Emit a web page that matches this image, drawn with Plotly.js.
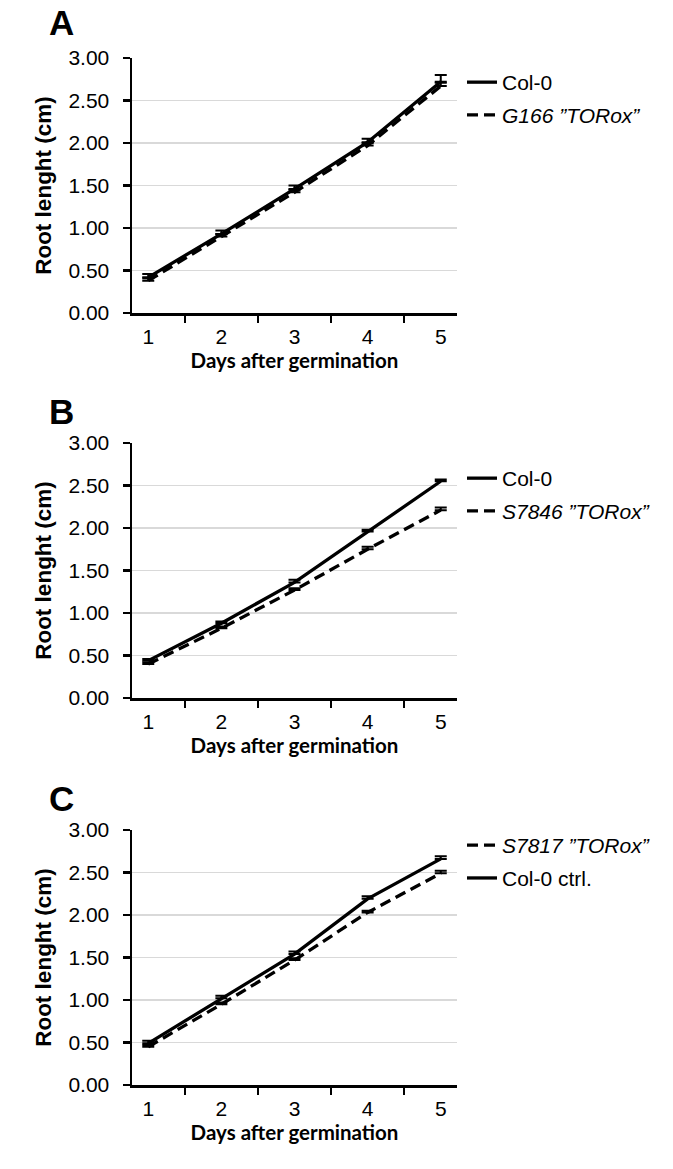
<!DOCTYPE html>
<html>
<head>
<meta charset="utf-8">
<script src="https://cdn.plot.ly/plotly-3.0.1.min.js"></script>
<style>html,body{margin:0;padding:0;background:#fff;}</style>
</head>
<body>
<div id="chart" style="width:673px;height:1169px;"></div>
<script>
// ---- data ----
const days = ['1', '2', '3', '4', '5'];

const colA = [0.42, 0.93, 1.46, 2.01, 2.72];
const colAErr = [0.04, 0.04, 0.04, 0.04, 0.08];
const toroxA = [0.38, 0.90, 1.42, 1.97, 2.67];
const toroxAErr = [0.03, 0.03, 0.03, 0.03, 0.04];

const colB = [0.44, 0.88, 1.36, 1.96, 2.55];
const colBErr = [0.02, 0.02, 0.03, 0.02, 0.02];
const toroxB = [0.40, 0.82, 1.27, 1.75, 2.21];
const toroxBErr = [0.02, 0.02, 0.02, 0.03, 0.03];

const colC = [0.49, 1.02, 1.54, 2.19, 2.66];
const colCErr = [0.03, 0.03, 0.03, 0.03, 0.03];
const toroxC = [0.45, 0.95, 1.47, 2.03, 2.49];
const toroxCErr = [0.02, 0.02, 0.02, 0.02, 0.03];

const panelLetters = ['A', 'B', 'C'];
const xTitle = 'Days after germination';
const yTitle = 'Root lenght (cm)';
const yTicks = [0, 0.5, 1, 1.5, 2, 2.5, 3];

// ---- styling ----
const W = 673, H = 1169;
const DASH = '11px,6px';
function errBar(arr) {
  return {type: 'data', symmetric: false, array: arr, arrayminus: arr.map(() => 0),
    visible: true, color: '#000', thickness: 2, width: 6};
}
let gi = 0;
function trace(y, err, name, dashed, xa, ya, leg) {
  gi += 1;
  return {
    x: days, y: y, name: name, type: 'scatter', mode: 'lines',
    xaxis: xa, yaxis: ya, legend: leg, legendgroup: 'g' + gi,
    line: {color: '#000', width: 3.3, dash: dashed ? DASH : 'solid'},
    error_y: errBar(err),
    hoverinfo: 'skip'
  };
}

const data = [
  trace(colA, colAErr, 'Col-0', false, 'x', 'y', 'legend'),
  trace(toroxA, toroxAErr, '<i>G166 ”TORox”</i>', true, 'x', 'y', 'legend'),
  trace(colB, colBErr, 'Col-0', false, 'x2', 'y2', 'legend2'),
  trace(toroxB, toroxBErr, '<i>S7846 ”TORox”</i>', true, 'x2', 'y2', 'legend2'),
  trace(toroxC, toroxCErr, '<i>S7817 ”TORox”</i>', true, 'x3', 'y3', 'legend3'),
  trace(colC, colCErr, 'Col-0 ctrl.', false, 'x3', 'y3', 'legend3')
];

// pixel boxes for plots (top, bottom)
const plotX = [132, 457];
const plotY = [[58, 313], [443, 698], [830, 1085]];
const xdom = [plotX[0] / W, plotX[1] / W];

const tickFont = {family: 'Liberation Sans, Arial, sans-serif', size: 21, color: '#000'};

function xaxis(anchor) {
  return {
    domain: xdom, anchor: anchor, type: 'category', tickson: 'boundaries',
    showline: true, linecolor: '#000', linewidth: 2.5,
    ticks: 'outside', ticklen: 7, tickwidth: 2.5, tickcolor: '#000',
    ticklabelstandoff: 3,
    showgrid: false, zeroline: false, tickfont: tickFont,
    title: {text: '<b>' + xTitle + '</b>', font: {family: 'Lato, sans-serif', size: 20.5, color: '#000'}, standoff: 6},
    fixedrange: true
  };
}
function yaxis(anchor, i) {
  const d = plotY[i];
  return {
    domain: [1 - d[1] / H, 1 - d[0] / H], anchor: anchor,
    range: [0, 3], tickvals: yTicks, tickformat: '.2f',
    showline: true, linecolor: '#000', linewidth: 2.5,
    ticks: 'outside', ticklen: 7, tickwidth: 2.5, tickcolor: '#000',
    ticklabelstandoff: 9,
    showgrid: true, gridcolor: '#d9d9d9', gridwidth: 1.5, zeroline: false,
    tickfont: tickFont,
    title: {text: '<b>' + yTitle + '</b>', font: {family: 'Liberation Sans, Arial, sans-serif', size: 22.5, color: '#000'}, standoff: 11},
    fixedrange: true
  };
}

const legFont = {family: 'Liberation Sans, Arial, sans-serif', size: 21, color: '#000'};
function legend(topPx) {
  return {x: 462 / W, xanchor: 'left', y: 1 - topPx / H, yanchor: 'top',
    font: legFont, bgcolor: 'rgba(0,0,0,0)', borderwidth: 0,
    traceorder: 'grouped', tracegroupgap: 2.5};
}

const annotations = panelLetters.map((L, i) => ({
  text: '<b>' + L + '</b>', xref: 'paper', yref: 'paper',
  x: 61 / W, y: 1 - [22, 412, 798][i] / H, xanchor: 'center', yanchor: 'middle',
  showarrow: false, font: {family: 'Liberation Sans, Arial, sans-serif', size: 35, color: '#000'}
}));

const layout = {
  width: W, height: H,
  margin: {l: 0, r: 0, t: 0, b: 0},
  paper_bgcolor: '#fff', plot_bgcolor: '#fff',
  showlegend: true,
  xaxis: xaxis('y'), yaxis: yaxis('x', 0),
  xaxis2: xaxis('y2'), yaxis2: yaxis('x2', 1),
  xaxis3: xaxis('y3'), yaxis3: yaxis('x3', 2),
  legend: legend(62), legend2: legend(458), legend3: legend(825),
  annotations: annotations
};

Plotly.newPlot('chart', data, layout, {displayModeBar: false, staticPlot: true});
</script>
</body>
</html>
